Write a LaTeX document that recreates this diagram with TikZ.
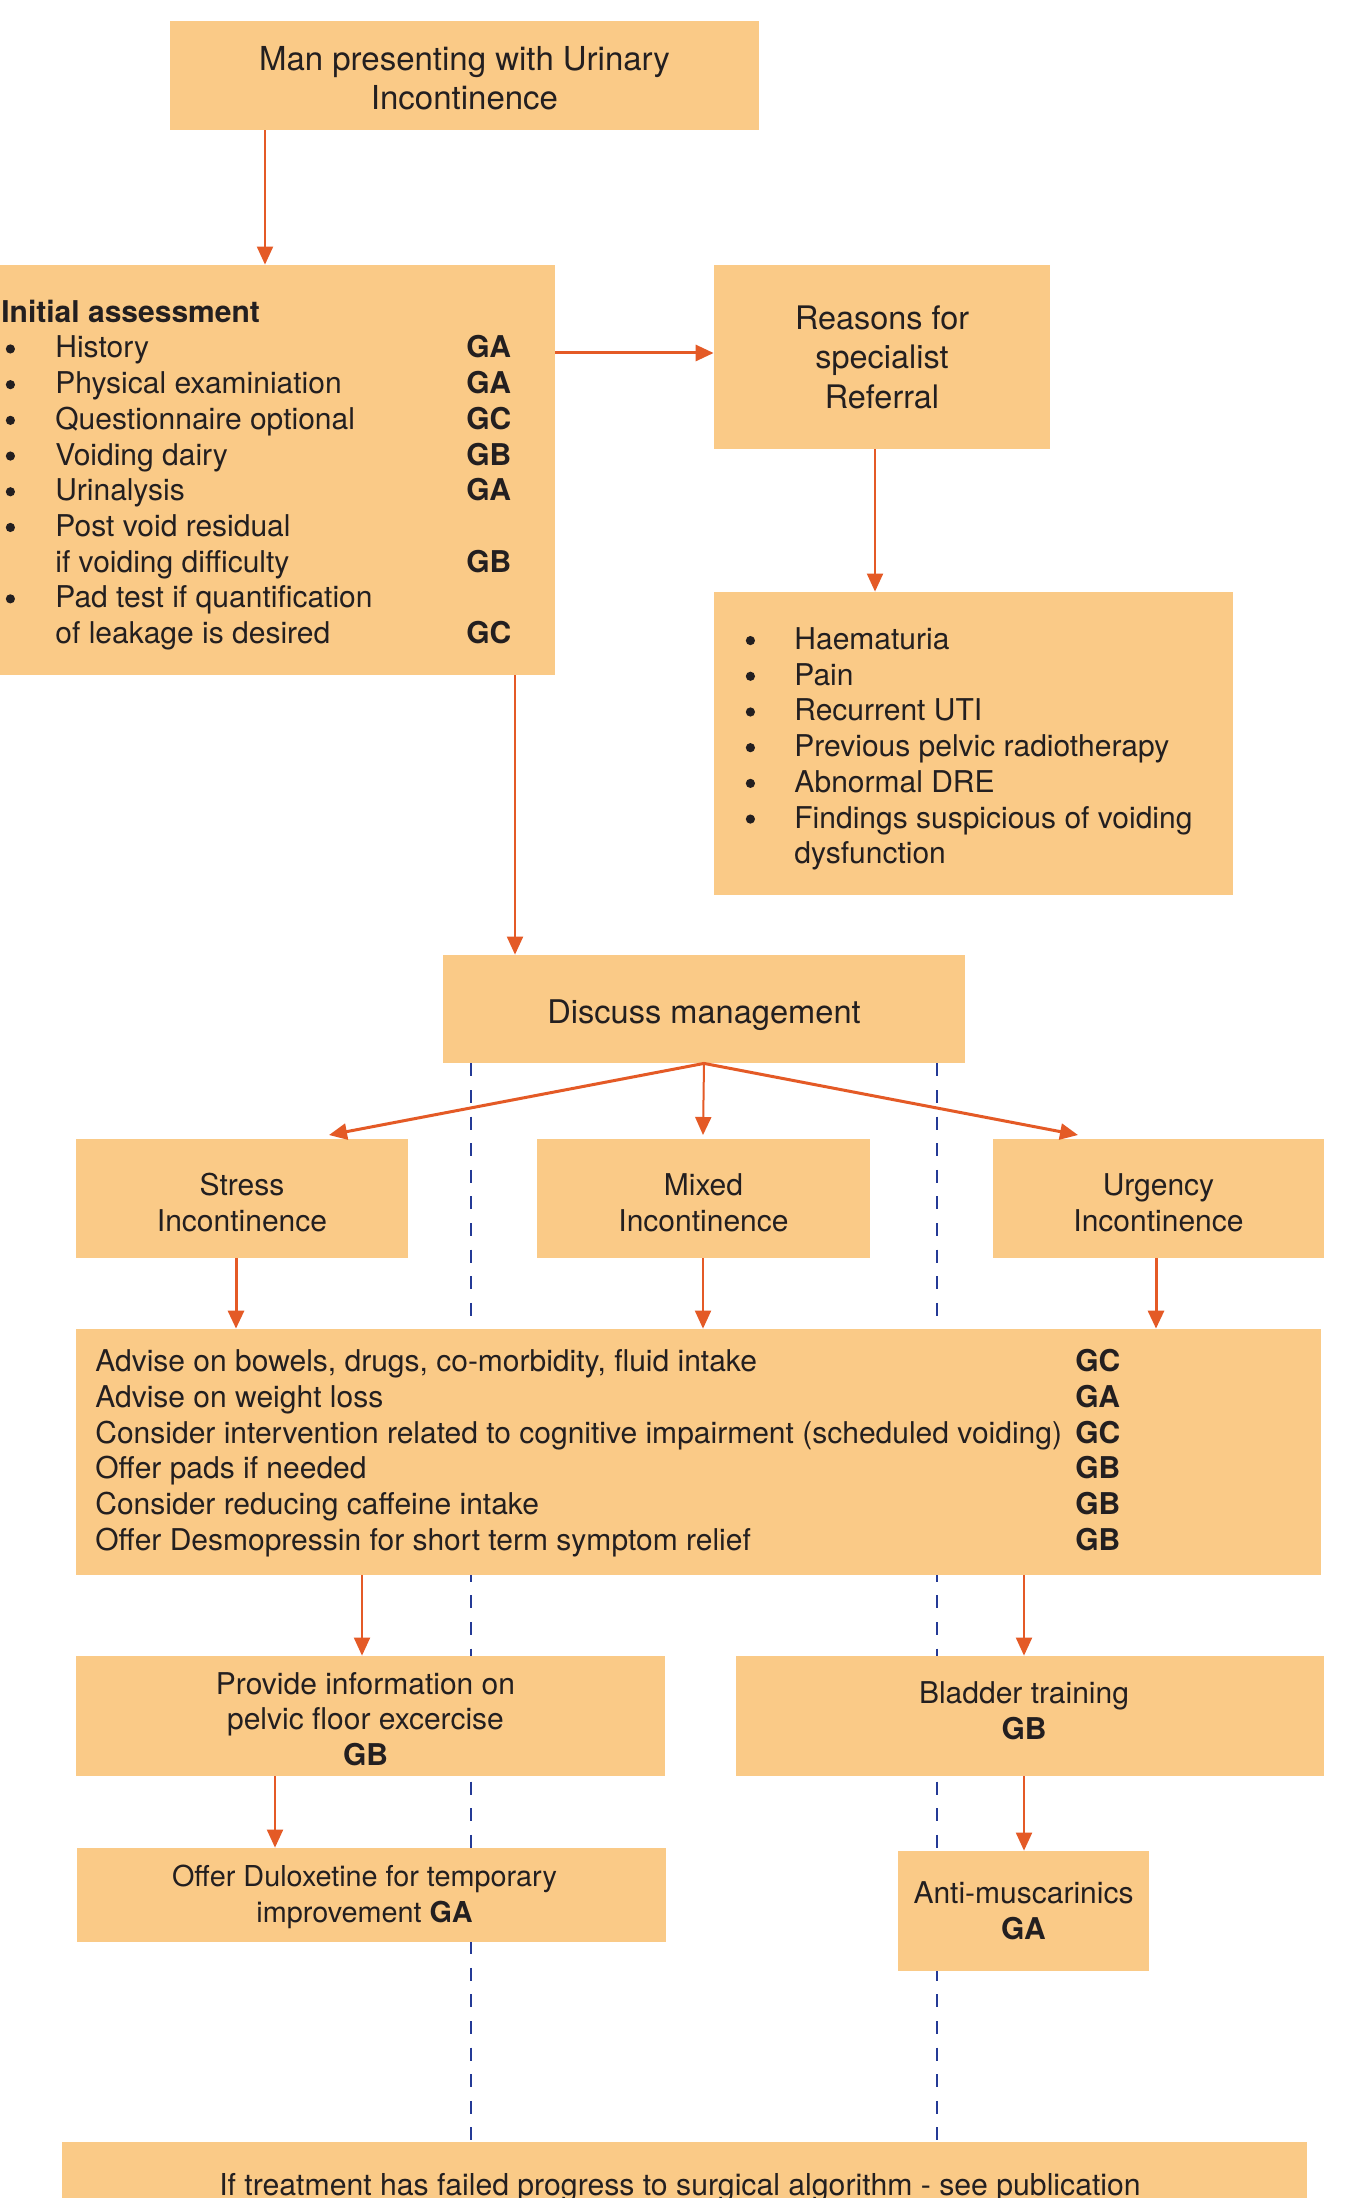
\documentclass[tikz,border=0pt]{standalone}
\usepackage{fontspec}
\setmainfont{TeX Gyre Heros}
\usetikzlibrary{arrows.meta}
\definecolor{boxfill}{RGB}{250,202,135}
\definecolor{arrowc}{RGB}{228,90,38}
\definecolor{dashc}{RGB}{36,58,150}
\definecolor{txt}{RGB}{35,31,32}
\newdimen\px \px=0.5pt
\pgfdeclarelayer{bg}
\pgfsetlayers{bg,main}
\newcommand\bul{\tikz[baseline=-4.5pt]\fill[txt] (0pt,0pt) circle (2.3pt);}
\newcommand\iaitem[2]{\makebox[20\px][c]{\bul}\hspace{35\px}\makebox[411\px][l]{#1}\textbf{#2}}
\newcommand\iacont[2]{\hspace{55\px}\makebox[411\px][l]{#1}\textbf{#2}}
\newcommand\litem[1]{\makebox[20\px][c]{\bul}\hspace{34\px}#1}
\newcommand\bigline[2]{\makebox[980\px][l]{#1}\textbf{#2}}
% [font style]{name}{x1}{y1}{x2}{y2}{dx}{dy}{text}
\newcommand\mkbox[9][fA]{%
  \node[box,minimum width={(#5-#3)*0.5pt},minimum height={(#6-#4)*0.5pt}] (#2) at ({(#3+#5)/2},{(#4+#6)/2}) {};
  \node[plain,align=center,#1] (#2-t) at ({(#3+#5)/2+#7},{(#4+#6)/2+#8}) {#9};}
\tikzset{
  box/.style={fill=boxfill, draw=none, inner sep=0pt},
  plain/.style={inner sep=0pt, text=txt},
  arr/.style={draw=arrowc, line width=1pt, -{Triangle[length=9pt,width=8pt]}},
  arrthick/.style={arr, line width=1.5pt},
  guide/.style={draw=dashc, line width=1.45pt, dash pattern=on 6.5pt off 6.8pt},
  fA/.style={font=\fontsize{15}{17.85}\selectfont},
  fS/.style={font=\fontsize{14.4}{17.85}\selectfont},
  fTop/.style={font=\fontsize{16.5}{19.6}\selectfont},
  fR/.style={font=\fontsize{16.2}{19.75}\selectfont},
  fD/.style={font=\fontsize{16.3}{19.5}\selectfont},
}
\begin{document}
\begin{tikzpicture}[x=0.5pt,y=-0.5pt]
\useasboundingbox (0,0) rectangle (1359,2198);

% boxes
\mkbox[fTop]{top}{170}{21}{759}{130}{0}{3}{Man presenting with Urinary\\Incontinence}
\mkbox{ia}{0}{265}{555}{675}{0}{0}{}
\mkbox[fR]{reasons}{714}{265}{1050}{449}{0}{0}{Reasons for\\specialist\\Referral}
\mkbox{list}{714}{592}{1233}{895}{0}{0}{}
\mkbox[fD]{dm}{443}{955}{965}{1063}{0}{6}{Discuss management}
\mkbox{stress}{76}{1139}{408}{1258}{0}{4}{Stress\\Incontinence}
\mkbox{mixed}{537}{1139}{870}{1258}{0}{4}{Mixed\\Incontinence}
\mkbox{urgency}{993}{1139}{1324}{1258}{0}{4}{Urgency\\Incontinence}
\mkbox{big}{76}{1329}{1321}{1575}{0}{0}{}
\mkbox{provide}{76}{1656}{665}{1776}{-5}{3}{Provide information on\\pelvic floor excercise\\\textbf{GB}}
\mkbox{bladder}{736}{1656}{1324}{1776}{-6}{-5}{Bladder training\\\textbf{GB}}
\mkbox[fS]{dulox}{77}{1848}{666}{1942}{-7}{2}{Offer Duloxetine for temporary\\improvement \textbf{GA}}
\mkbox{anti}{898}{1851}{1149}{1971}{0}{0}{Anti-muscarinics\\\textbf{GA}}
\mkbox{bottom}{62}{2142}{1307}{2250}{0}{0}{}

% texts of the list boxes
\node[plain, fA, align=left, anchor=west] (iatext) at (0,475) {%
\hspace{1\px}\textbf{Initial assessment}\\
\iaitem{History}{GA}\\
\iaitem{Physical examiniation}{GA}\\
\iaitem{Questionnaire optional}{GC}\\
\iaitem{Voiding dairy}{GB}\\
\iaitem{Urinalysis}{GA}\\
\iaitem{Post void residual}{}\\
\iacont{if voiding difficulty}{GB}\\
\iaitem{Pad test if quantification}{}\\
\iacont{of leakage is desired}{GC}};
\node[plain, fA, align=left, anchor=west] (listtext) at (740,749) {%
\litem{Haematuria}\\
\litem{Pain}\\
\litem{Recurrent UTI}\\
\litem{Previous pelvic radiotherapy}\\
\litem{Abnormal DRE}\\
\litem{Findings suspicious of voiding}\\
\hspace{54\px}dysfunction};
\node[plain, fA, align=left, anchor=west] (bigtext) at (95,1453) {%
\bigline{Advise on bowels, drugs, co-morbidity, fluid intake}{GC}\\
\bigline{Advise on weight loss}{GA}\\
\bigline{Consider intervention related to cognitive impairment (scheduled voiding)}{GC}\\
\bigline{Offer pads if needed}{GB}\\
\bigline{Consider reducing caffeine intake}{GB}\\
\bigline{Offer Desmopressin for short term symptom relief}{GB}};
\node[plain, font=\fontsize{15.1}{18}\selectfont, anchor=base] (bottomtext) at (680,2195) {If treatment has failed progress to surgical algorithm - see publication};

% column / row helpers
\coordinate (c265) at (265,0);
\coordinate (r353) at (0,353);
\coordinate (c875) at (875,0);
\coordinate (c515) at (515,0);
\coordinate (c236) at (236,0);
\coordinate (c703) at (703,0);
\coordinate (c1156) at (1156,0);
\coordinate (c362) at (362,0);
\coordinate (c1024) at (1024,0);
\coordinate (c275) at (275,0);
\coordinate (c471) at (471,0);
\coordinate (c937) at (937,0);
\coordinate (tipS) at (329,1135);
\coordinate (tipM) at (703,1135);
\coordinate (tipU) at (1078,1135);

% dashed guides behind the boxes
\begin{pgfonlayer}{bg}
\fill[white] (0,0) rectangle (1359,2198);
\draw[guide] (dm.south -| c471) -- (bottom.north -| c471);
\draw[guide] (dm.south -| c937) -- (bottom.north -| c937);
\end{pgfonlayer}

% connectors
\draw[arr] (top.south -| c265) -- (ia.north -| c265);
\draw[arrthick] (ia.east |- r353) -- (reasons.west |- r353);
\draw[arr] (reasons.south -| c875) -- (list.north -| c875);
\draw[arr] (ia.south -| c515) -- (dm.north -| c515);
\draw[arrthick] (dm.south) -- (tipS);
\draw[arr] (dm.south) -- (tipM);
\draw[arrthick] (dm.south) -- (tipU);
\draw[arrthick] (stress.south -| c236) -- (big.north -| c236);
\draw[arr] (mixed.south -| c703) -- (big.north -| c703);
\draw[arrthick] (urgency.south -| c1156) -- (big.north -| c1156);
\draw[arr] (big.south -| c362) -- (provide.north -| c362);
\draw[arr] (big.south -| c1024) -- (bladder.north -| c1024);
\draw[arr] (provide.south -| c275) -- (dulox.north -| c275);
\draw[arr] (bladder.south -| c1024) -- (anti.north -| c1024);
\end{tikzpicture}
\end{document}
